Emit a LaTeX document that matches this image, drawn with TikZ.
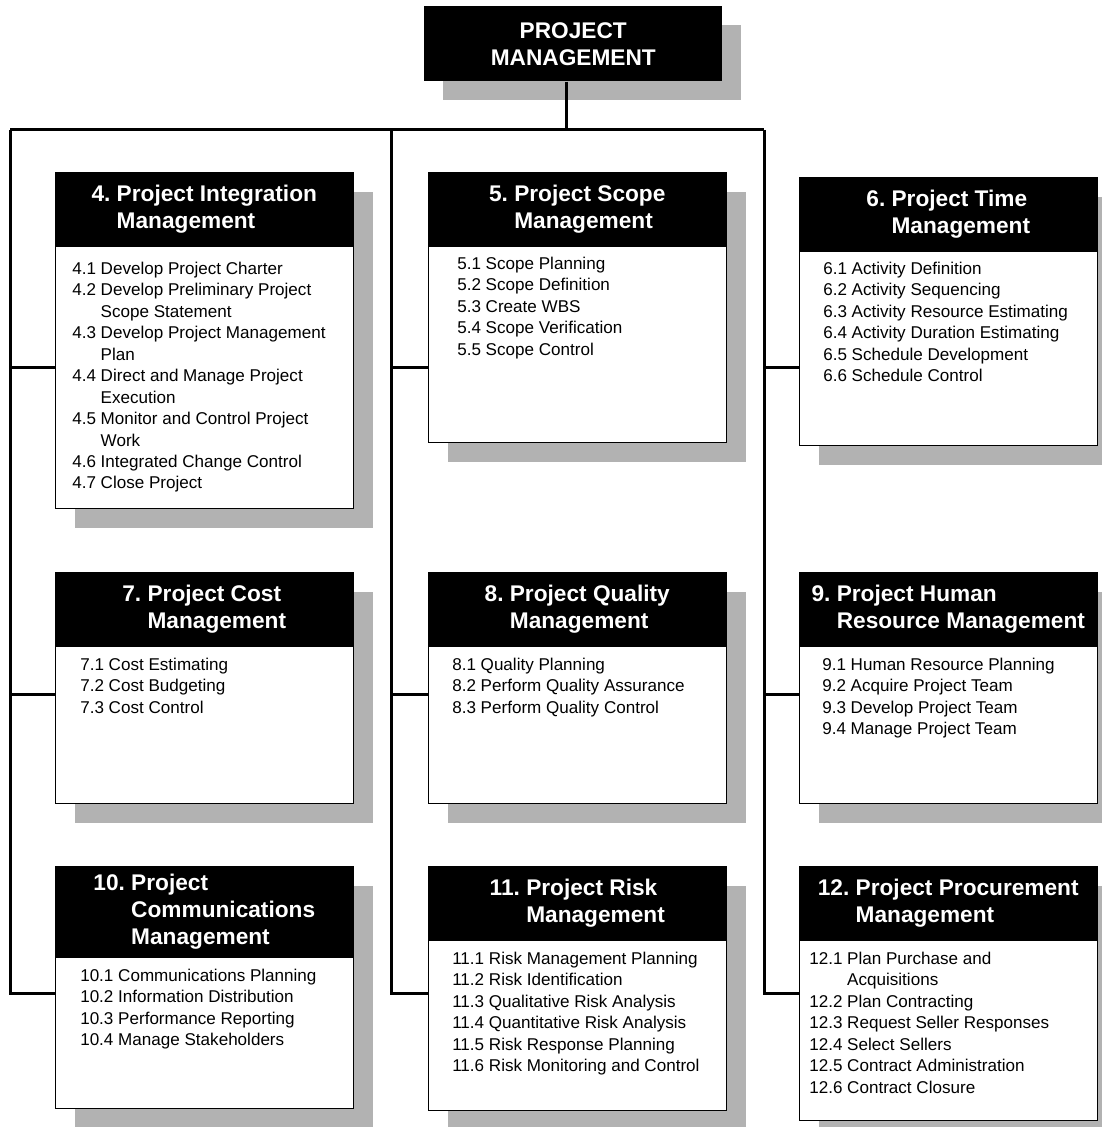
\documentclass[tikz,border=0pt]{standalone}
\usepackage{fontspec}
\setmainfont{Liberation Sans}
\usetikzlibrary{positioning, shadows}
\tikzset{
  boxshadow/.style={drop shadow={shadow xshift=14.25pt, shadow yshift=-14.25pt, fill=black!30, opacity=1}},
  head/.style={rectangle, fill=black, text=white, font=\fontsize{17}{20.25}\selectfont\bfseries, minimum width=223.5pt, minimum height=56.25pt, inner sep=0pt, anchor=north west},
  body/.style={rectangle, draw=black, line width=1.1pt, fill=white, minimum width=223.5pt, inner sep=0pt, anchor=north west, boxshadow},
  items/.style={anchor=north west, inner sep=0pt, font=\fontsize{12.8}{16.1}\selectfont},
  bus/.style={line width=2.25pt}
}

\begin{document}
\begin{tikzpicture}[x=0.75pt, y=-0.75pt]
        \useasboundingbox (0,0) rectangle (1101,1127);

        % Raiz
        \node (pm) [head, align=center, boxshadow] at (424,6) {PROJECT\\MANAGEMENT};

        % Fila 1
        \node (b4) [body, minimum height=252pt] at (55,172) {};
        \node (h4) [head] at (55,172) {\begin{tabular}{@{}l@{\ }l@{}}4. & Project Integration\\ & Management\end{tabular}};
        \node (i4) [items] at (72,259) {\begin{tabular}{@{}l@{\ }l@{}}
          4.1 & Develop Project Charter\\
          4.2 & Develop Preliminary Project\\
              & Scope Statement\\
          4.3 & Develop Project Management\\
              & Plan\\
          4.4 & Direct and Manage Project\\
              & Execution\\
          4.5 & Monitor and Control Project\\
              & Work\\
          4.6 & Integrated Change Control\\
          4.7 & Close Project
        \end{tabular}};

        \node (b5) [body, minimum height=202.5pt] at (428,172) {};
        \node (h5) [head] at (428,172) {\begin{tabular}{@{}l@{\ }l@{}}5. & Project Scope\\ & Management\end{tabular}};
        \node (i5) [items] at (457,254) {\begin{tabular}{@{}l@{\ }l@{}}
          5.1 & Scope Planning\\
          5.2 & Scope Definition\\
          5.3 & Create WBS\\
          5.4 & Scope Verification\\
          5.5 & Scope Control
        \end{tabular}};

        \node (b6) [body, minimum height=201pt] at (799,177) {};
        \node (h6) [head] at (799,177) {\begin{tabular}{@{}l@{\ }l@{}}6. & Project Time\\ & Management\end{tabular}};
        \node (i6) [items] at (823,259) {\begin{tabular}{@{}l@{\ }l@{}}
          6.1 & Activity Definition\\
          6.2 & Activity Sequencing\\
          6.3 & Activity Resource Estimating\\
          6.4 & Activity Duration Estimating\\
          6.5 & Schedule Development\\
          6.6 & Schedule Control
        \end{tabular}};

        % Fila 2
        \node (b7) [body, minimum height=173.25pt] at (55,572) {};
        \node (h7) [head] at (55,572) {\begin{tabular}{@{}l@{\ }l@{}}7. & Project Cost\\ & Management\end{tabular}};
        \node (i7) [items] at (80,655) {\begin{tabular}{@{}l@{\ }l@{}}
          7.1 & Cost Estimating\\
          7.2 & Cost Budgeting\\
          7.3 & Cost Control
        \end{tabular}};

        \node (b8) [body, minimum height=173.25pt] at (428,572) {};
        \node (h8) [head] at (428,572) {\begin{tabular}{@{}l@{\ }l@{}}8. & Project Quality\\ & Management\end{tabular}};
        \node (i8) [items] at (452,655) {\begin{tabular}{@{}l@{\ }l@{}}
          8.1 & Quality Planning\\
          8.2 & Perform Quality Assurance\\
          8.3 & Perform Quality Control
        \end{tabular}};

        \node (b9) [body, minimum height=173.25pt] at (799,572) {};
        \node (h9) [head] at (799,572) {\begin{tabular}{@{}l@{\ }l@{}}9. & Project Human\\ & Resource Management\end{tabular}};
        \node (i9) [items] at (822,655) {\begin{tabular}{@{}l@{\ }l@{}}
          9.1 & Human Resource Planning\\
          9.2 & Acquire Project Team\\
          9.3 & Develop Project Team\\
          9.4 & Manage Project Team
        \end{tabular}};

        % Fila 3
        \node (b10) [body, minimum height=181.5pt] at (55,866) {};
        \node (h10) [head, minimum height=69pt] at (55,866) {\begin{tabular}{@{}l@{\ }l@{}}10. & Project\\ & Communications\\ & Management\end{tabular}};
        \node (i10) [items] at (80,966) {\begin{tabular}{@{}l@{\ }l@{}}
          10.1 & Communications Planning\\
          10.2 & Information Distribution\\
          10.3 & Performance Reporting\\
          10.4 & Manage Stakeholders
        \end{tabular}};

        \node (b11) [body, minimum height=183pt] at (428,866) {};
        \node (h11) [head] at (428,866) {\begin{tabular}{@{}l@{\ }l@{}}11. & Project Risk\\ & Management\end{tabular}};
        \node (i11) [items] at (452,949) {\begin{tabular}{@{}l@{\ }l@{}}
          11.1 & Risk Management Planning\\
          11.2 & Risk Identification\\
          11.3 & Qualitative Risk Analysis\\
          11.4 & Quantitative Risk Analysis\\
          11.5 & Risk Response Planning\\
          11.6 & Risk Monitoring and Control
        \end{tabular}};

        \node (b12) [body, minimum height=190.5pt] at (799,866) {};
        \node (h12) [head] at (799,866) {\begin{tabular}{@{}l@{\ }l@{}}12. & Project Procurement\\ & Management\end{tabular}};
        \node (i12) [items] at (809,949) {\begin{tabular}{@{}l@{\ }l@{}}
          12.1 & Plan Purchase and\\
               & Acquisitions\\
          12.2 & Plan Contracting\\
          12.3 & Request Seller Responses\\
          12.4 & Select Sellers\\
          12.5 & Contract Administration\\
          12.6 & Contract Closure
        \end{tabular}};

        % Lineas
        \coordinate (bus) at (566,130);
        \coordinate (busL) at (10,130);
        \coordinate (busM) at (391,130);
        \coordinate (busR) at (764,130);
        \coordinate (r1) at (0,367);
        \coordinate (r2) at (0,694);
        \coordinate (r3) at (0,993);

        \draw [bus] (pm.south -| bus) -- (bus);
        \draw [bus] (busL) -- (busR);
        \draw [bus] (busL) |- (b10.west |- r3);
        \draw [bus] (busM) |- (b11.west |- r3);
        \draw [bus] (busR) |- (b12.west |- r3);
        \draw [bus] (busL |- r1) -- (b4.west |- r1);
        \draw [bus] (busM |- r1) -- (b5.west |- r1);
        \draw [bus] (busR |- r1) -- (b6.west |- r1);
        \draw [bus] (busL |- r2) -- (b7.west |- r2);
        \draw [bus] (busM |- r2) -- (b8.west |- r2);
        \draw [bus] (busR |- r2) -- (b9.west |- r2);
\end{tikzpicture}
\end{document}
